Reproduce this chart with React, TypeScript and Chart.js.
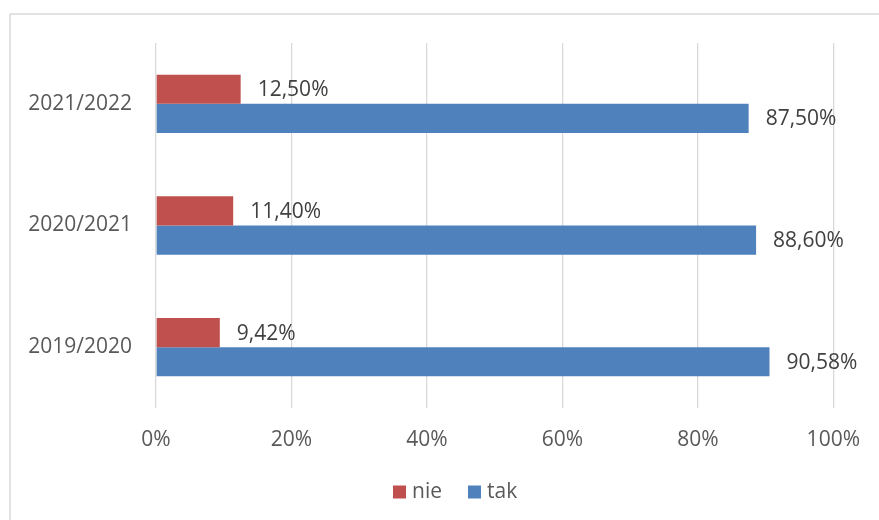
import React, { useEffect, useRef } from "react";
import { Chart, registerables } from "chart.js";

Chart.register(...registerables);

const categories = ["2021/2022", "2020/2021", "2019/2020"];
const nieValues = [12.5, 11.4, 9.42];
const takValues = [87.5, 88.6, 90.58];
const xTicks = [0, 20, 40, 60, 80, 100];
const seriesNames = ["nie", "tak"];
const seriesColors = ["#C0504D", "#4F81BD"];

const FONT = "'Open Sans', sans-serif";
const TEXT = "#595959";

const fmt = (v: number) => v.toFixed(2).replace(".", ",") + "%";

const framePlugin = {
  id: "frame",
  beforeDraw(chart: any) {
    const ctx = chart.ctx;
    ctx.save();
    ctx.fillStyle = "#ffffff";
    ctx.fillRect(0, 0, chart.width, chart.height);
    ctx.strokeStyle = "#D9D9D9";
    ctx.lineWidth = 1.5;
    ctx.strokeRect(10, 14, 2000, 2000);
    ctx.restore();
  },
};

const labelPlugin = {
  id: "valueLabels",
  afterDatasetsDraw(chart: any) {
    const ctx = chart.ctx;
    ctx.save();
    ctx.font = `21px ${FONT}`;
    ctx.fillStyle = "#404040";
    ctx.textAlign = "left";
    ctx.textBaseline = "middle";
    chart.data.datasets.forEach((ds: any, i: number) => {
      const meta = chart.getDatasetMeta(i);
      meta.data.forEach((el: any, j: number) => {
        ctx.fillText(fmt(ds.data[j]), el.x + 17, el.y + 1);
      });
    });
    ctx.restore();
  },
};

const legendPlugin = {
  id: "customLegend",
  afterDraw(chart: any) {
    const ctx = chart.ctx;
    ctx.save();
    ctx.font = `21px ${FONT}`;
    ctx.textAlign = "left";
    ctx.textBaseline = "middle";
    const cy = 492;
    let x = 393;
    chart.data.datasets.forEach((ds: any) => {
      ctx.fillStyle = ds.backgroundColor;
      ctx.fillRect(x, cy - 6.5, 13, 13);
      ctx.fillStyle = TEXT;
      ctx.fillText(ds.label, x + 19, cy);
      x += 19 + ctx.measureText(ds.label).width + 26;
    });
    ctx.restore();
  },
};

export default function App() {
  const ref = useRef<HTMLCanvasElement>(null);
  useEffect(() => {
    if (!ref.current) return;
    const chart = new Chart(ref.current, {
      type: "bar",
      data: {
        labels: categories,
        datasets: [
          { label: seriesNames[0], data: nieValues, backgroundColor: seriesColors[0] },
          { label: seriesNames[1], data: takValues, backgroundColor: seriesColors[1] },
        ],
      },
      options: {
        indexAxis: "y",
        animation: false,
        responsive: false,
        layout: { padding: { left: 0, right: 44, top: 43, bottom: 60 } },
        datasets: { bar: { categoryPercentage: 0.48, barPercentage: 1 } },
        scales: {
          x: {
            min: 0,
            max: 100,
            afterBuildTicks: (s: any) => {
              s.ticks = xTicks.map((v) => ({ value: v }));
            },
            afterFit: (s: any) => {
              s.height = 52;
            },
            grid: { color: "#D9D9D9", lineWidth: 1.3, drawTicks: false },
            border: { display: false },
            ticks: {
              padding: 19,
              color: TEXT,
              font: { family: FONT, size: 21 },
              callback: (v: any) => v + "%",
            },
          },
          y: {
            afterFit: (s: any) => {
              s.width = 156;
            },
            grid: { display: false },
            border: { display: false },
            ticks: {
              padding: 16,
              color: TEXT,
              font: { family: FONT, size: 21 },
            },
          },
        },
        plugins: {
          legend: { display: false },
          tooltip: { enabled: false },
        },
      },
      plugins: [framePlugin, labelPlugin, legendPlugin],
    } as any);
    return () => chart.destroy();
  }, []);
  return (
    <canvas
      ref={ref}
      width={879}
      height={520}
      style={{ position: "absolute", left: 0, top: 0, width: 879, height: 520 }}
    />
  );
}
